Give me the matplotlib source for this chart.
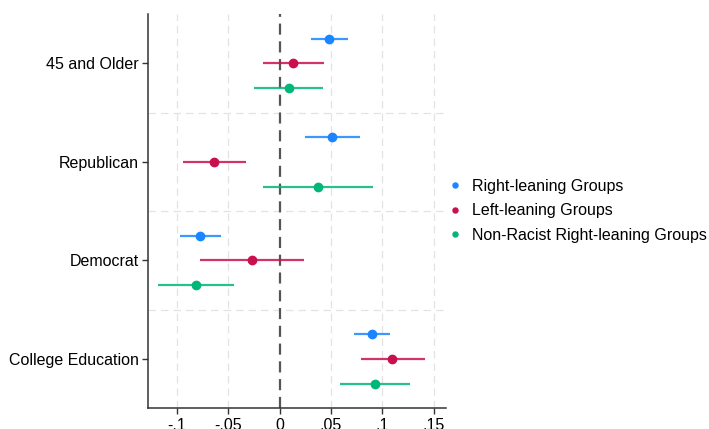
import matplotlib
matplotlib.use("Agg")
import matplotlib.pyplot as plt
import numpy as np

plt.rcParams['font.family'] = ['Liberation Sans', 'DejaVu Sans']

categories = ["45 and Older", "Republican", "Democrat", "College Education"]
series = ["Right-leaning Groups", "Left-leaning Groups", "Non-Racist Right-leaning Groups"]
colors = ["#1a85ff", "#c8104f", "#00b77a"]

est = {
    "Right-leaning Groups": [0.048, 0.0506, -0.0772, 0.0898],
    "Left-leaning Groups": [0.0133, -0.0636, -0.0269, 0.1095],
    "Non-Racist Right-leaning Groups": [0.0087, 0.037, -0.0817, 0.093],
}
lo = {
    "Right-leaning Groups": [0.0305, 0.0243, -0.0967, 0.0723],
    "Left-leaning Groups": [-0.0162, -0.0944, -0.0778, 0.0788],
    "Non-Racist Right-leaning Groups": [-0.0253, -0.0162, -0.1184, 0.0587],
}
hi = {
    "Right-leaning Groups": [0.0667, 0.0781, -0.0574, 0.107],
    "Left-leaning Groups": [0.0434, -0.0325, 0.0236, 0.1416],
    "Non-Racist Right-leaning Groups": [0.0424, 0.0905, -0.0447, 0.127],
}
xticks = [-0.1, -0.05, 0, 0.05, 0.1, 0.15]
xticklabels = ["-.1", "-.05", "0", ".05", ".1", ".15"]

fig = plt.figure(figsize=(7.09, 4.29), dpi=100)
ax = fig.add_axes([148.3/709, 1-408.3/429, (446-148.3)/709, (408.3-14)/429])

offsets = [-0.25, 0.0, 0.25]
ypos = np.arange(len(categories))
for s, c, off in zip(series, colors, offsets):
    y = ypos + off
    ax.hlines(y, lo[s], hi[s], color=c, lw=1.6, alpha=0.85, zorder=3)
    ax.plot(est[s], y, 'o', color=c, ms=6, zorder=4, label=s, linestyle='none')

ax.axvline(0, color='#555555', lw=1.6, ls=(0, (5, 3)), zorder=2)
for x in xticks:
    if x != 0:
        ax.axvline(x, color='#e3e3e3', lw=0.9, ls=(0, (6, 4)), zorder=1)
for yv in [0.5, 1.5, 2.5]:
    ax.axhline(yv, color='#e3e3e3', lw=0.9, ls=(0, (6, 4)), zorder=1)

ax.set_xlim(-0.1278, 0.1618)
ax.set_ylim(3.5, -0.5)
ax.set_yticks(ypos)
ax.set_yticklabels(categories, fontsize=11.5)
ax.set_xticks(xticks)
ax.set_xticklabels(xticklabels, fontsize=11.5)
ax.spines['top'].set_visible(False)
ax.spines['right'].set_visible(False)
for sp in ['left', 'bottom']:
    ax.spines[sp].set_color('#333333')
    ax.spines[sp].set_linewidth(1.1)
ax.tick_params(length=4, color='#333333', width=1, pad=3)

fig.legend(loc='center left', bbox_to_anchor=(445/709, 1-211/429), frameon=False,
           fontsize=11.5, markerscale=0.6, handletextpad=0.5, labelspacing=0.6,
           handlelength=1.2, borderpad=0, borderaxespad=0)

fig.savefig("out.png", dpi=100)
